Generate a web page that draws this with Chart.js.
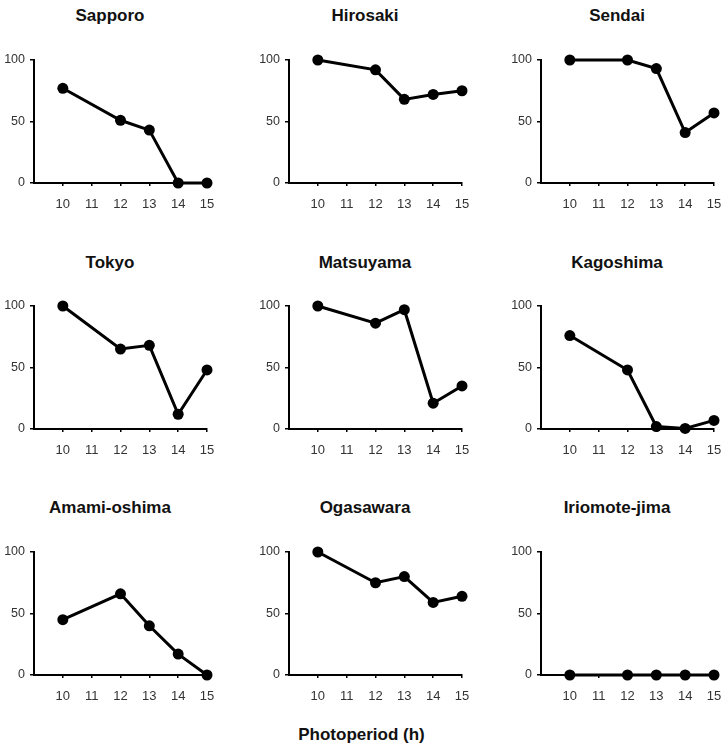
<!DOCTYPE html>
<html>
<head>
<meta charset="utf-8">
<script src="https://cdn.jsdelivr.net/npm/chart.js@4.4.0/dist/chart.umd.min.js"></script>
<style>
  html, body { margin: 0; padding: 0; background: #fff; }
  body { width: 723px; height: 747px; position: relative; overflow: hidden; font-family: "Liberation Sans", Arial, sans-serif; }
  .ttl { position: absolute; width: 220px; text-align: center; font-weight: bold; font-size: 17px; color: #111; line-height: 20px; }
  .cv { position: absolute; }
  #xlab { position: absolute; left: 0; width: 723px; top: 724px; text-align: center; font-weight: bold; font-size: 17px; color: #111; line-height: 22px; }
</style>
</head>
<body>
<div id="xlab">Photoperiod (h)</div>
<script>
const photoperiods = [10, 12, 13, 14, 15];
const xTicks = [10, 11, 12, 13, 14, 15];
const yTicks = [0, 50, 100];
const sites = ["Sapporo", "Hirosaki", "Sendai", "Tokyo", "Matsuyama", "Kagoshima", "Amami-oshima", "Ogasawara", "Iriomote-jima"];
const sapporo   = [77, 51, 43, 0, 0];
const hirosaki  = [100, 92, 68, 72, 75];
const sendai    = [100, 100, 93, 41, 57];
const tokyo     = [100, 65, 68, 12, 48];
const matsuyama = [100, 86, 97, 21, 35];
const kagoshima = [76, 48, 2, 0.5, 7];
const amami     = [45, 66, 40, 17, 0];
const ogasawara = [100, 75, 80, 59, 64];
const iriomote  = [0, 0, 0, 0, 0];
const seriesList = [sapporo, hirosaki, sendai, tokyo, matsuyama, kagoshima, amami, ogasawara, iriomote];

// layout
const axisXs = [34, 289, 541];
const top100 = [60, 306, 552];
const titleY = [16, 263, 508];
const AREA_W = 173, AREA_H = 123, YW = 34, XH = 36, PT = 8, PR = 8;

sites.forEach((name, i) => {
  const col = i % 3, row = Math.floor(i / 3);
  const left = axisXs[col] - YW;
  const top = top100[row] - PT;
  const t = document.createElement('div');
  t.className = 'ttl';
  t.textContent = name;
  t.style.left = (axisXs[col] + 76 - 110) + 'px';
  t.style.top = (titleY[row] - 10) + 'px';
  document.body.appendChild(t);

  const c = document.createElement('canvas');
  c.className = 'cv';
  const W = YW + AREA_W + PR, H = PT + AREA_H + XH;
  c.style.left = left + 'px';
  c.style.top = top + 'px';
  c.style.width = W + 'px';
  c.style.height = H + 'px';
  c.width = W; c.height = H;
  document.body.appendChild(c);

  const data = seriesList[i].map((v, k) => ({ x: photoperiods[k], y: v }));
  new Chart(c, {
    type: 'line',
    data: { datasets: [{
      data: data,
      borderColor: '#000',
      backgroundColor: '#000',
      borderWidth: 3,
      pointRadius: 5.5,
      pointHoverRadius: 5.5,
      pointBackgroundColor: '#000',
      pointBorderColor: '#000',
      pointBorderWidth: 0,
      tension: 0,
      clip: false
    }]},
    options: {
      responsive: false,
      animation: false,
      events: [],
      layout: { padding: { top: PT, right: PR, left: 0, bottom: 0 } },
      plugins: { legend: { display: false }, tooltip: { enabled: false }, title: { display: false } },
      scales: {
        x: {
          type: 'linear', min: 9, max: 15,
          afterBuildTicks: s => { s.ticks = xTicks.map(v => ({ value: v })); },
          afterFit: s => { s.height = XH; s.paddingLeft = 0; s.paddingRight = 0; },
          grid: { display: true, drawOnChartArea: false, drawTicks: true, tickLength: 3, color: '#000', lineWidth: 1.5 },
          border: { display: true, color: '#000', width: 2 },
          ticks: { color: '#333', font: { family: 'Liberation Sans, Arial', size: 13 }, padding: 11, maxRotation: 0, autoSkip: false }
        },
        y: {
          type: 'linear', min: 0, max: 100,
          afterBuildTicks: s => { s.ticks = yTicks.map(v => ({ value: v })); },
          afterFit: s => { s.width = YW; s.paddingTop = 0; s.paddingBottom = 0; },
          grid: { display: true, drawOnChartArea: false, drawTicks: true, tickLength: 4, color: '#000', lineWidth: 1.5 },
          border: { display: true, color: '#000', width: 2 },
          ticks: { color: '#333', font: { family: 'Liberation Sans, Arial', size: 12.5 }, padding: 5 }
        }
      }
    }
  });
});
</script>
</body>
</html>
